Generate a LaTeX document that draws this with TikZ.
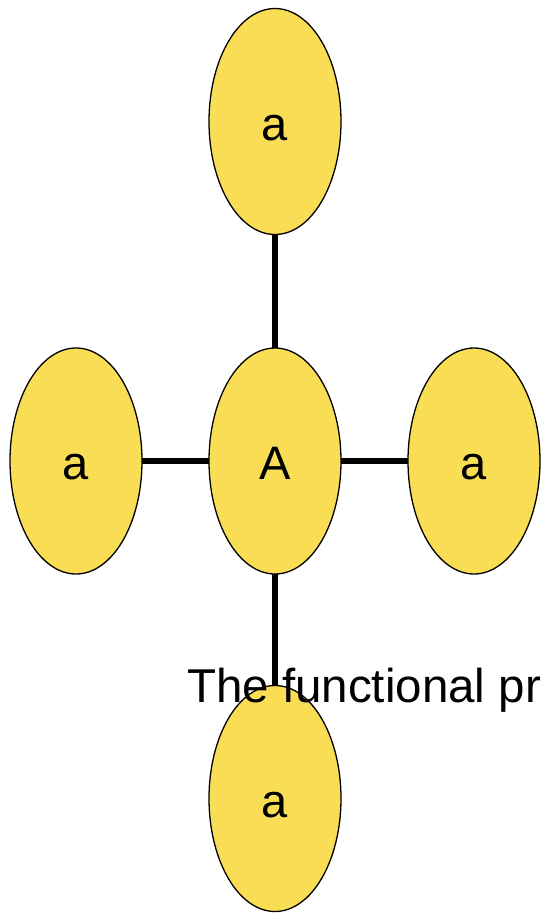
\documentclass[tikz,border=0pt]{standalone}
\usepackage{fontspec}
\setmainfont{Liberation Sans}
\usetikzlibrary{shapes.geometric}
\definecolor{petal}{RGB}{249,221,85}
\tikzset{
  x=1pt, y=-1pt,
  petalnode/.style={ellipse, draw=black, line width=1.3pt, fill=petal,
    minimum width=132pt, minimum height=226pt, inner sep=0pt,
    text height=37pt, text depth=0pt,
    font=\fontsize{47}{50}\selectfont},
  link/.style={line width=6pt, black}
}
\begin{document}
\begin{tikzpicture}
\useasboundingbox (0,0) rectangle (541,914);
\clip (0,0) rectangle (541,914);
% hub and its four leaves
\coordinate (pc) at (275,461);
\coordinate (pt) at (275,121.5);
\coordinate (pl) at (76,461);
\coordinate (pr) at (474,461);
\coordinate (pb) at (275,798.5);
\draw[link] (pc) -- (pt);
\draw[link] (pc) -- (pl);
\draw[link] (pc) -- (pr);
\draw[link] (pc) -- (pb);
\node[petalnode] (center) at (pc) {A};
\node[petalnode] (top) at (pt) {a};
\node[petalnode] (left) at (pl) {a};
\node[petalnode] (right) at (pr) {a};
\node[petalnode] (bottom) at (pb) {a};
% caption running off the right edge
\node[anchor=base west, inner sep=0pt, font=\fontsize{47.5}{51}\selectfont] (caption) at (187,702) {The functional pr};
\end{tikzpicture}
\end{document}
